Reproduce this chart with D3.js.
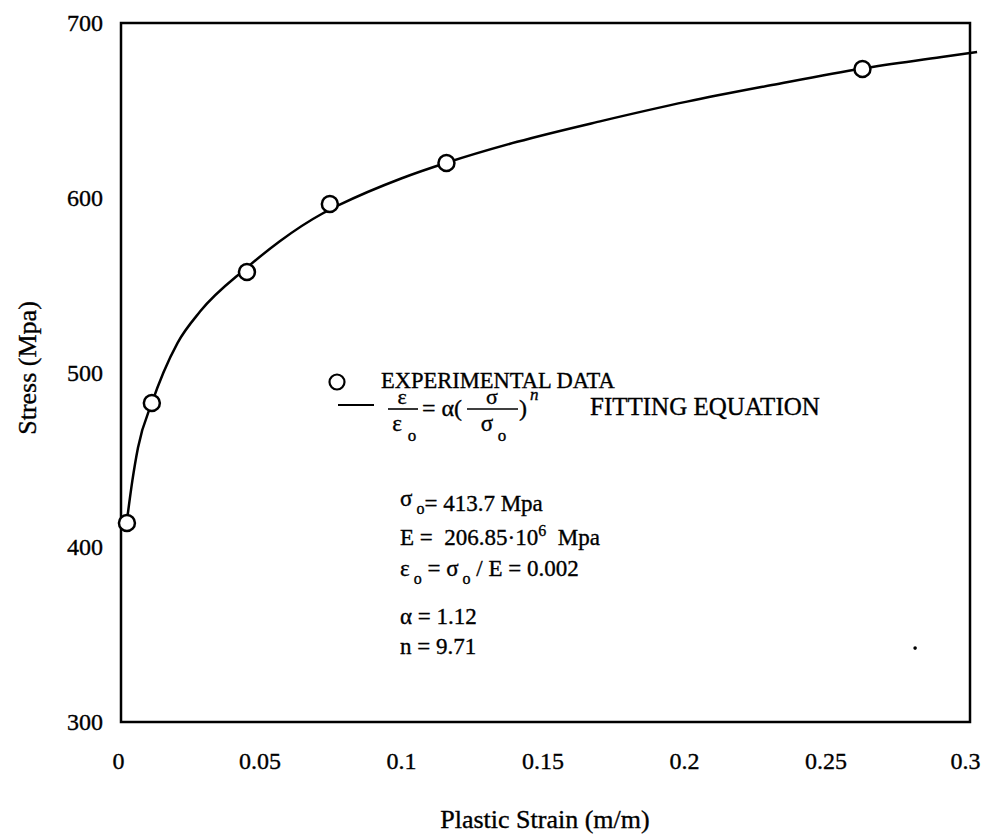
<!DOCTYPE html>
<html>
<head>
<meta charset="utf-8">
<script src="https://cdn.jsdelivr.net/npm/d3@7"></script>
<style>
  body { margin: 0; background: #fff; }
  text { font-family: "Liberation Serif", "DejaVu Serif", serif; fill: #000; stroke: #000; stroke-width: 0.35px; white-space: pre; }
</style>
</head>
<body>
<div id="chart"></div>
<script>
// experimental points (plastic strain, stress in Mpa)
const expStrain = [0.0021, 0.0109, 0.0445, 0.0738, 0.1150, 0.2620];
const expStress = [413.9, 482.5, 557.5, 596.4, 619.9, 673.7];

// fitting curve
const fitStrain = [0.002, 0.004, 0.006, 0.011, 0.015, 0.020, 0.028, 0.0445, 0.056, 0.0712, 0.0773, 0.099, 0.115, 0.140, 0.170, 0.200, 0.230, 0.262, 0.290, 0.3025];
const fitStress = [414, 438, 457, 483, 500, 517, 535, 560, 575, 591, 596, 611, 620, 632, 644, 655, 664.5, 674, 680.5, 683.4];

// stray speck in the scan
const speck = [0.2806, 342.3];

const xTicks = [0, 0.05, 0.1, 0.15, 0.2, 0.25, 0.3];
const xTickLabels = ["0", "0.05", "0.1", "0.15", "0.2", "0.25", "0.3"];
const yTicks = [300, 400, 500, 600, 700];

const W = 982, H = 835
, plotLeft = 121, plotTop = 23, plotRight = 970, plotBottom = 722;

const svg = d3.select("#chart").append("svg")
  .attr("width", W)
  .attr("height", H);

const x = d3.scaleLinear().domain([0, 0.3]).range([plotLeft, plotRight]);
const y = d3.scaleLinear().domain([300, 700]).range([plotBottom, plotTop]);

// axes, labels only
const xAxis = svg.append("g")
  .attr("transform", `translate(-3,${plotBottom + 30})`)
  .call(d3.axisBottom(x).tickValues(xTicks).tickSize(0).tickFormat((d, i) => xTickLabels[i]));
xAxis.select(".domain").remove();
xAxis.selectAll("text")
  .style("font-family", "Liberation Serif")
  .style("font-size", "24px")
  .attr("dy", "0.6em");
// last label sits against the page edge
xAxis.selectAll("text").filter(d => d === 0.3).attr("text-anchor", "end").attr("dx", "13px");

const yAxis = svg.append("g")
  .attr("transform", `translate(${plotLeft - 18},0)`)
  .call(d3.axisLeft(y).tickValues(yTicks).tickSize(0).tickPadding(0));
yAxis.select(".domain").remove();
yAxis.selectAll("text")
  .style("font-family", "Liberation Serif")
  .style("font-size", "24px");

// frame
svg.append("rect")
  .attr("x", plotLeft)
  .attr("y", plotTop)
  .attr("width", plotRight - plotLeft)
  .attr("height", plotBottom - plotTop)
  .style("fill", "none")
  .style("stroke", "#000")
  .style("stroke-width", 2.5);

// axis titles
svg.append("text")
  .attr("x", 545)
  .attr("y", 828)
  .attr("text-anchor", "middle")
  .style("font-size", "26px")
  .text("Plastic Strain (m/m)");

svg.append("text")
  .attr("transform", "translate(36,368) rotate(-90)")
  .attr("text-anchor", "middle")
  .style("font-size", "26px")
  .text("Stress (Mpa)");

// fitted curve
const fit = fitStrain.map((d, i) => [d, fitStress[i]]);
svg.append("path")
  .datum(fit)
  .attr("d", d3.line()
    .x(d => x(d[0]))
    .y(d => y(d[1]))
    .curve(d3.curveMonotoneX))
  .style("fill", "none")
  .style("stroke", "#000")
  .style("stroke-width", 2.5);

// experimental points
svg.selectAll(".pt")
  .data(expStrain.map((d, i) => [d, expStress[i]]))
  .enter().append("circle")
  .attr("class", "pt")
  .attr("cx", d => x(d[0]))
  .attr("cy", d => y(d[1]))
  .attr("r", 8)
  .style("fill", "#fff")
  .style("stroke", "#000")
  .style("stroke-width", 2.5);

svg.append("circle")
  .attr("cx", x(speck[0]))
  .attr("cy", y(speck[1]))
  .attr("r", 1.8)
  .style("fill", "#000");

// legend
const lg = svg.append("g");
lg.append("circle")
  .attr("cx", 337).attr("cy", 382).attr("r", 7.5)
  .style("fill", "#fff").style("stroke", "#000").style("stroke-width", 2.2);
lg.append("text")
  .attr("x", 381).attr("y", 388)
  .style("font-size", "22.5px")
  .text("EXPERIMENTAL DATA");

lg.append("line")
  .attr("x1", 338).attr("x2", 374).attr("y1", 405).attr("y2", 405)
  .style("stroke", "#000").style("stroke-width", 2);

function frac(cx, sym, x0, x1) {
  lg.append("text").attr("x", cx).attr("y", 404)
    .attr("text-anchor", "middle").style("font-size", "22px").text(sym);
  lg.append("line").attr("x1", x0).attr("x2", x1).attr("y1", 409).attr("y2", 409)
    .style("stroke", "#000").style("stroke-width", 1.6);
  lg.append("text").attr("x", cx - 5).attr("y", 431)
    .attr("text-anchor", "middle").style("font-size", "23px").text(sym);
  lg.append("text").attr("x", cx + 10).attr("y", 441)
    .attr("text-anchor", "middle").style("font-size", "17px").text("o");
}
frac(402, "ε", 388, 418);
lg.append("text").attr("x", 422).attr("y", 416)
  .style("font-size", "24px").text("= α(");
frac(492, "σ", 467, 518);
lg.append("text").attr("x", 519).attr("y", 416)
  .style("font-size", "24px").text(")");
lg.append("text").attr("x", 530).attr("y", 400)
  .style("font-size", "17px").style("font-style", "italic").text("n");
lg.append("text").attr("x", 590).attr("y", 415)
  .style("font-size", "25px").text("FITTING EQUATION");

// parameter block
const pg = svg.append("g").style("font-size", "23px");
const px = 400;
let t = pg.append("text").attr("x", px).attr("y", 511);
t.append("tspan").attr("dy", "-5").text("σ");
t.append("tspan").attr("dy", "8").style("font-size", "16px").text(" o");
t.append("tspan").attr("dy", "-3").text("= 413.7 Mpa");

t = pg.append("text").attr("x", px).attr("y", 545);
t.append("tspan").text("E =  206.85·10");
t.append("tspan").attr("dy", "-9").style("font-size", "16px").text("6");
t.append("tspan").attr("dy", "9").text("  Mpa");

t = pg.append("text").attr("x", px).attr("y", 576);
t.append("tspan").text("ε");
t.append("tspan").attr("dy", "8").style("font-size", "16px").text(" o");
t.append("tspan").attr("dy", "-8").text(" = σ");
t.append("tspan").attr("dy", "8").style("font-size", "16px").text(" o");
t.append("tspan").attr("dy", "-8").text(" / E = 0.002");

pg.append("text").attr("x", px).attr("y", 624).text("α = 1.12");
pg.append("text").attr("x", px).attr("y", 654).text("n = 9.71");
</script>
</body>
</html>
